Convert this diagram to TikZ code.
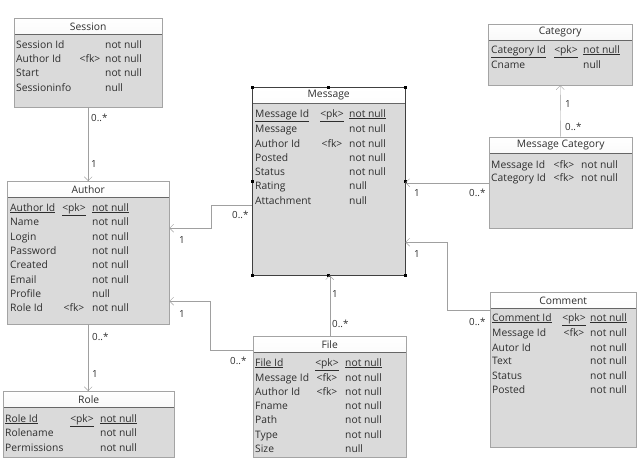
\documentclass[tikz,border=0pt]{standalone}
\usepackage{fontspec}
\setmainfont{Open Sans}
\usetikzlibrary{arrows.meta}
\definecolor{bodygray}{HTML}{DADADA}
\definecolor{edgegray}{HTML}{A4A4A4}
\definecolor{linegray}{HTML}{A0A0A0}
\definecolor{textgray}{HTML}{2E2E2E}
\begin{document}
\begin{tikzpicture}[x=1pt, y=-1pt,
  tbl/.style={draw=edgegray, fill=bodygray, anchor=north west, inner sep=0pt,
    path picture={
      \shade[top color=white, bottom color=gray!22]
        (path picture bounding box.north west) rectangle ([yshift=-16.5pt]path picture bounding box.north east);
      \draw[black!60, line width=1pt]
        ([yshift=-16.5pt]path picture bounding box.north west) -- ([yshift=-16.5pt]path picture bounding box.north east);
    }},
  title/.style={inner sep=0pt, font=\fontsize{10.3}{12}\selectfont, text=textgray},
  cell/.style={anchor=base west, inner sep=0pt, font=\fontsize{10.3}{12}\selectfont, text=textgray},
  keycell/.style={cell, anchor=base},
  mult/.style={anchor=base west, inner sep=0pt, font=\fontsize{9.8}{11}\selectfont, text=textgray},
  conn/.style={draw=linegray, -{Straight Barb[length=4pt,width=8pt]}}
]
  \useasboundingbox (0,0) rectangle (642,472);

  % Session
  \node[tbl, minimum width=148, minimum height=89] (session) at (14,18) {};
  \node[title] (session-t) at ([yshift=-8.5pt]session.north) {Session};
  \foreach \y/\n/\k/\v [count=\i] in {48/Session Id//not null, 62/Author Id/<fk>/not null,
      76/Start//not null, 91/Sessioninfo//null} {
    \node[cell] (session-n\i) at (16,\y) {\n};
    \node[keycell] (session-k\i) at (90,\y) {\k};
    \node[cell] (session-v\i) at (105,\y) {\v};
  }

  % Author
  \node[tbl, minimum width=162, minimum height=143] (author) at (7,181) {};
  \node[title] (author-t) at ([yshift=-8.5pt]author.north) {Author};
  \node[cell] (author-n0) at (10,211) {\underline{Author Id}};
  \node[keycell] (author-k0) at (74,211) {\underline{<pk>}};
  \node[cell] (author-v0) at (92,211) {\underline{not null}};
  \foreach \y/\n/\k/\v [count=\i] in {225.5/Name//not null, 240/Login//not null,
      254/Password//not null, 268/Created//not null, 283/Email//not null,
      297/Profile//null, 311/Role Id/<fk>/not null} {
    \node[cell] (author-n\i) at (10,\y) {\n};
    \node[keycell] (author-k\i) at (74,\y) {\k};
    \node[cell] (author-v\i) at (92,\y) {\v};
  }

  % Role
  \node[tbl, minimum width=171, minimum height=66] (role) at (3,391) {};
  \node[title] (role-t) at ([yshift=-8.5pt]role.north) {Role};
  \node[cell] (role-n0) at (5,422) {\underline{Role Id}};
  \node[keycell] (role-k0) at (82,422) {\underline{<pk>}};
  \node[cell] (role-v0) at (100,422) {\underline{not null}};
  \foreach \y/\n/\v [count=\i] in {436/Rolename/not null, 451/Permissions/not null} {
    \node[cell] (role-n\i) at (5,\y) {\n};
    \node[cell] (role-v\i) at (100,\y) {\v};
  }

  % Message
  \node[tbl, draw=black!75, minimum width=153, minimum height=188] (message) at (252,87) {};
  \node[title] (message-t) at ([yshift=-8.5pt]message.north) {Message};
  \node[cell] (message-n0) at (255,117) {\underline{Message Id}};
  \node[keycell] (message-k0) at (332,117) {\underline{<pk>}};
  \node[cell] (message-v0) at (349,117) {\underline{not null}};
  \foreach \y/\n/\k/\v [count=\i] in {132/Message//not null, 147/Author Id/<fk>/not null,
      161/Posted//not null, 175/Status//not null, 189/Rating//null, 204/Attachment//null} {
    \node[cell] (message-n\i) at (255,\y) {\n};
    \node[keycell] (message-k\i) at (332,\y) {\k};
    \node[cell] (message-v\i) at (349,\y) {\v};
  }
  \foreach \a in {north west, north, north east, east, south east, south, south west, west}
    \fill (message.\a) +(-1.5,-1.5) rectangle +(1.5,1.5);

  % File
  \node[tbl, minimum width=153, minimum height=121] (file) at (253,336) {};
  \node[title] (file-t) at ([yshift=-8.5pt]file.north) {File};
  \node[cell] (file-n0) at (255,366) {\underline{File Id}};
  \node[keycell] (file-k0) at (327,366) {\underline{<pk>}};
  \node[cell] (file-v0) at (345,366) {\underline{not null}};
  \foreach \y/\n/\k/\v [count=\i] in {381/Message Id/<fk>/not null, 395/Author Id/<fk>/not null,
      409/Fname//not null, 423/Path//not null, 438/Type//not null, 452/Size//null} {
    \node[cell] (file-n\i) at (255,\y) {\n};
    \node[keycell] (file-k\i) at (327,\y) {\k};
    \node[cell] (file-v\i) at (345,\y) {\v};
  }

  % Category
  \node[tbl, minimum width=144, minimum height=61] (category) at (488,24) {};
  \node[title] (category-t) at ([yshift=-8.5pt]category.north) {Category};
  \node[cell] (category-n0) at (491,53) {\underline{Category Id}};
  \node[keycell] (category-k0) at (566,53) {\underline{<pk>}};
  \node[cell] (category-v0) at (583,53) {\underline{not null}};
  \node[cell] (category-n1) at (491,68) {Cname};
  \node[cell] (category-v1) at (583,68) {null};

  % Message Category
  \node[tbl, minimum width=143, minimum height=91] (msgcat) at (489,137) {};
  \node[title] (msgcat-t) at ([yshift=-8.5pt]msgcat.north) {Message Category};
  \foreach \y/\n [count=\i] in {168/Message Id, 181/Category Id} {
    \node[cell] (msgcat-n\i) at (491,\y) {\n};
    \node[keycell] (msgcat-k\i) at (564,\y) {<fk>};
    \node[cell] (msgcat-v\i) at (581,\y) {not null};
  }

  % Comment
  \node[tbl, minimum width=146, minimum height=155] (comment) at (490,292) {};
  \node[title] (comment-t) at ([yshift=-8.5pt]comment.north) {Comment};
  \node[cell] (comment-n0) at (492,321) {\underline{Comment Id}};
  \node[keycell] (comment-k0) at (574,321) {\underline{<pk>}};
  \node[cell] (comment-v0) at (590,321) {\underline{not null}};
  \foreach \y/\n/\k/\v [count=\i] in {336/Message Id/<fk>/not null, 351/Autor Id//not null,
      364/Text//not null, 379/Status//not null, 393/Posted//not null} {
    \node[cell] (comment-n\i) at (492,\y) {\n};
    \node[keycell] (comment-k\i) at (574,\y) {\k};
    \node[cell] (comment-v\i) at (590,\y) {\v};
  }

  % Connectors
  \draw[conn] (session.south) -- (author.north);
  \draw[conn] (author.south) -- (author.south |- role.north);
  \draw[conn] ([yshift=-24pt]message.west) -- ++(-41,0) |- ([yshift=24.5pt]author.east);
  \draw[conn] ([yshift=46.5pt]file.west) -- ++(-43,0) |- ([yshift=-48.5pt]author.east);
  \draw[conn] (file.north) -- (file.north |- message.south);
  \draw[conn] (msgcat.west) -- (msgcat.west -| message.east);
  \draw[conn] ([yshift=59.5pt]comment.west) -- ++(-43,0) |- ([yshift=-61pt]message.east);
  \draw[conn] (msgcat.north) -- (category.south);

  % Multiplicities
  \node[mult] (m1a) at (91,121) {0..*};
  \node[mult] (m1b) at (91,167) {1};
  \node[mult] (m2a) at (92,340) {0..*};
  \node[mult] (m2b) at (92,377) {1};
  \node[mult] (m3a) at (232,218) {0..*};
  \node[mult] (m3b) at (179,243) {1};
  \node[mult] (m4a) at (230,364) {0..*};
  \node[mult] (m4b) at (179,317) {1};
  \node[mult] (m5a) at (332,327) {0..*};
  \node[mult] (m5b) at (332,297) {1};
  \node[mult] (m6a) at (469,196) {0..*};
  \node[mult] (m6b) at (414,196) {1};
  \node[mult] (m7a) at (469,325) {0..*};
  \node[mult] (m7b) at (414,257) {1};
  \node[mult] (m8a) at (565,130) {0..*};
  \node[mult] (m8b) at (565,107) {1};
\end{tikzpicture}
\end{document}
